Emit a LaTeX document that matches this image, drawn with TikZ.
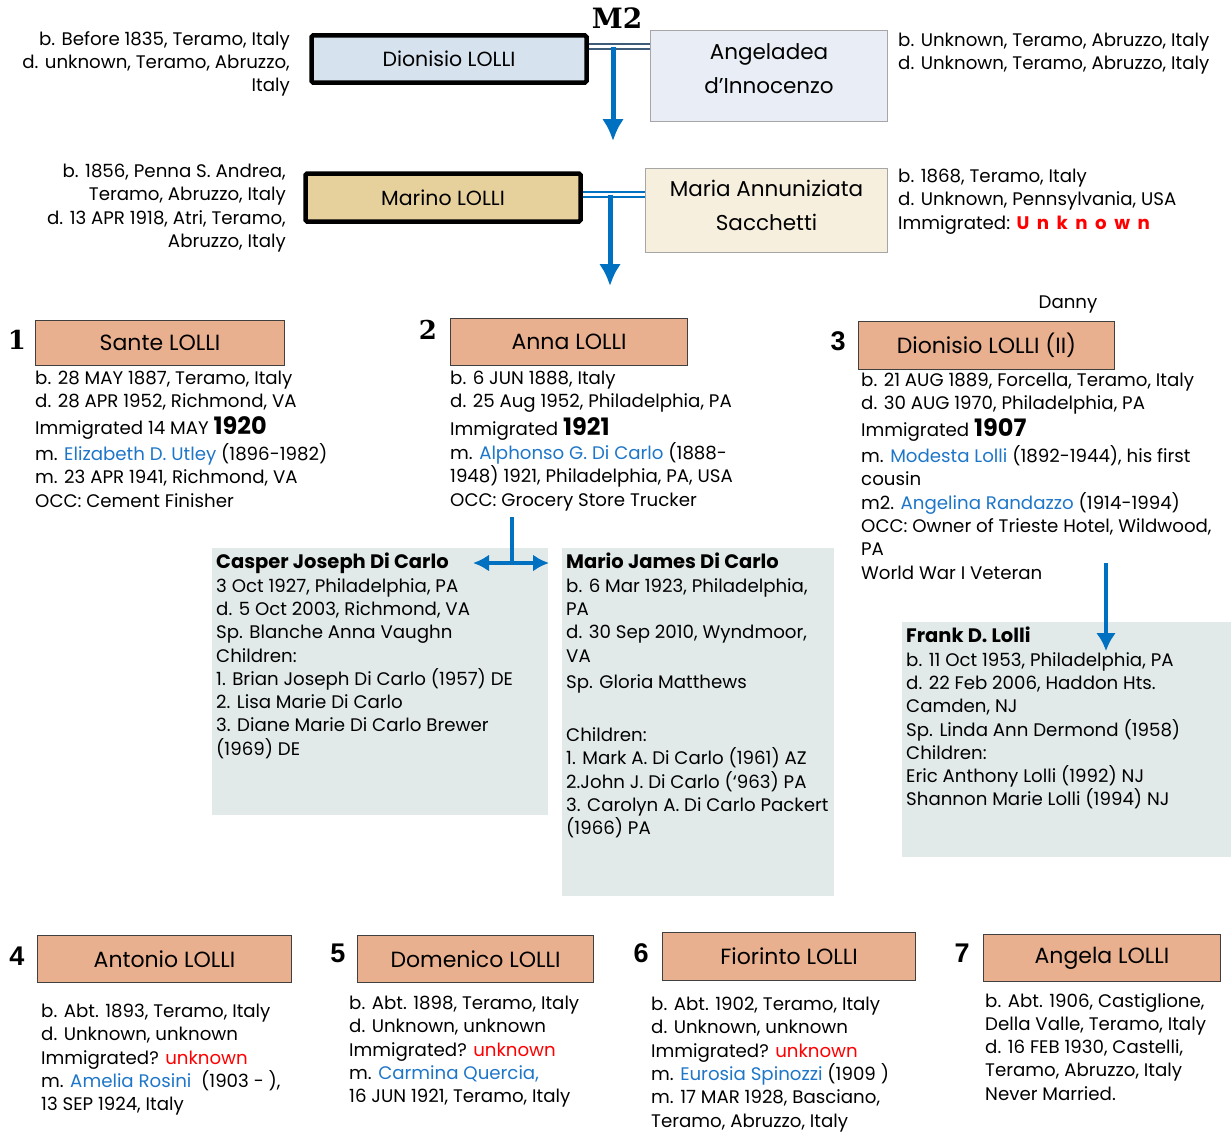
\documentclass[tikz,border=0pt]{standalone}
\usepackage{fontspec}
\setmainfont{Poppins}
\newfontfamily\numserif{DejaVu Serif}
\newfontfamily\numsans{Liberation Sans}
\usetikzlibrary{arrows.meta}
\definecolor{famblue}{RGB}{0,112,192}
\definecolor{linkblue}{RGB}{30,118,200}
\definecolor{slate}{RGB}{62,92,122}
\definecolor{salmon}{RGB}{233,176,143}
\definecolor{marinotan}{RGB}{230,208,156}
\definecolor{paleblue}{RGB}{214,227,238}
\definecolor{lavender}{RGB}{233,238,246}
\definecolor{cream}{RGB}{246,239,222}
\definecolor{panel}{RGB}{226,234,233}
\newcommand{\infosize}{\fontsize{18.2}{23.3}\selectfont}
\newcommand{\yr}[1]{{\fontsize{24}{23}\selectfont\bfseries #1}}
\newcommand{\lnk}[1]{\textcolor{linkblue}{#1}}
\newcommand{\unk}[1]{\textcolor{red}{#1}}
\newcommand{\head}[1]{{\fontsize{19.5}{23.3}\selectfont\bfseries #1}}
\newcommand{\gap}{\hspace{7.5pt}}

\begin{document}
\begin{tikzpicture}[x=1pt, y=-1pt,
	info/.style={anchor=north west, align=left, inner sep=0pt, font=\infosize},
	inforight/.style={anchor=north east, align=right, inner sep=0pt, font=\infosize},
	parent/.style={draw=black, line width=4.5pt, rounded corners=1.5pt, font=\fontsize{20.5}{24}\selectfont},
	spouse/.style={draw=black!35, line width=1pt, align=center, font=\fontsize{21.5}{34}\selectfont},
	child/.style={draw=black!75, line width=1.2pt, fill=salmon, font=\fontsize{22}{26}\selectfont},
	numA/.style={font=\numserif\bfseries\fontsize{26}{26}\selectfont},
	numB/.style={font=\numsans\bfseries\fontsize{27}{27}\selectfont},
	marriage/.style={double=white, double distance=3pt, line width=2pt},
	famarrow/.style={famblue, line width=5pt, -{Latex[length=22pt,width=22pt]}},
	kidarrow/.style={famblue, line width=4pt, {Latex[length=16pt,width=17pt]}-{Latex[length=16pt,width=17pt]}}]

	\useasboundingbox (0,0) rectangle (1231,1132);

	% grandparents
	\node[inforight] (dioninfo) at (290,31) {b. Before 1835, Teramo, Italy\\ d. unknown, Teramo, Abruzzo,\\ Italy};
	\node[parent, fill=paleblue, minimum width=275, minimum height=47] (dionisio) at (449,59) {Dionisio LOLLI};
	\node[font=\numserif\bfseries\fontsize{28}{28}\selectfont] (mtwo) at (617,18) {M2};
	\node[spouse, fill=lavender, minimum width=237, minimum height=91, text depth=14pt] (angeladea) at (769,76) {Angeladea\\ d’Innocenzo};
	\node[info] (angelinfo) at (898,33) {b. Unknown, Teramo, Abruzzo, Italy\\ d. Unknown, Teramo, Abruzzo, Italy};

	\coordinate (m1) at (613,47);
	\coordinate (m1end) at (613,141);
	\draw[marriage, draw=slate] (dionisio.east |- m1) -- (angeladea.west |- m1);
	\draw[famarrow] (m1) -- (m1end);

	% parents
	\node[inforight] (marinfo) at (286,164) {b. 1856, Penna S. Andrea,\\ Teramo, Abruzzo, Italy\\ d. 13 APR 1918, Atri, Teramo,\\ Abruzzo, Italy};
	\node[parent, fill=marinotan, minimum width=275, minimum height=48] (marino) at (443,197.5) {Marino LOLLI};
	\node[spouse, fill=cream, minimum width=242, minimum height=84, text depth=10pt] (maria) at (766.5,210.5) {Maria Annuniziata\\ Sacchetti};
	\node[info] (mariainfo) at (898,169) {b. 1868, Teramo, Italy\\ d. Unknown, Pennsylvania, USA\\ Immigrated: \unk{\bfseries U\gap n\gap k\gap n\gap o\gap w\gap n}};

	\coordinate (m2) at (610,194.5);
	\coordinate (m2end) at (610,286);
	\draw[marriage, draw=famblue] (marino.east |- m2) -- (maria.west |- m2);
	\draw[famarrow] (m2) -- (m2end);

	% children of marino, first row
	\node[numA] (n1) at (17,340) {1};
	\node[child, minimum width=249, minimum height=45] (sante) at (160,343) {Sante LOLLI};
	\node[info] (santeinfo) at (35,371) {b. 28 MAY 1887, Teramo, Italy\\ d. 28 APR 1952, Richmond, VA\\[3pt] Immigrated 14 MAY \yr{1920}\\[3pt] m. \lnk{Elizabeth D. Utley} (1896-1982)\\ m. 23 APR 1941, Richmond, VA\\ OCC: Cement Finisher};

	\node[numA] (n2) at (428,330) {2};
	\node[child, minimum width=237, minimum height=47] (anna) at (569,342) {Anna LOLLI};
	\node[info] (annainfo) at (450,371) {b. 6 JUN 1888, Italy\\ d. 25 Aug 1952, Philadelphia, PA\\[4pt] Immigrated \yr{1921}\\[1pt] m. \lnk{Alphonso G. Di Carlo} (1888-\\ 1948) 1921, Philadelphia, PA, USA\\ OCC: Grocery Store Trucker};

	\node[font=\infosize] (danny) at (1068,305) {Danny};
	\node[numB] (n3) at (838,341) {3};
	\node[child, minimum width=256, minimum height=48] (dionii) at (986.5,345.5) {Dionisio LOLLI (II)};
	\node[info] (dioniiinfo) at (861,373) {b. 21 AUG 1889, Forcella, Teramo, Italy\\ d. 30 AUG 1970, Philadelphia, PA\\[3pt] Immigrated \yr{1907}\\[3pt] m. \lnk{Modesta Lolli} (1892-1944), his first\\ cousin\\ m2. \lnk{Angelina Randazzo} (1914-1994)\\ OCC: Owner of Trieste Hotel, Wildwood,\\ PA\\ World War I Veteran};

	% grandchildren panels
	\fill[panel] (212,548) rectangle (548,815);
	\fill[panel] (562,548) rectangle (834,896);
	\fill[panel] (902,622) rectangle (1231,857);

	\node[info] (casper) at (216,553) {\head{Casper Joseph Di Carlo}\\ 3 Oct 1927, Philadelphia, PA\\ d. 5 Oct 2003, Richmond, VA\\ Sp. Blanche Anna Vaughn\\ Children:\\ 1. Brian Joseph Di Carlo (1957) DE\\ 2. Lisa Marie Di Carlo\\ 3. Diane Marie Di Carlo Brewer\\ (1969) DE};
	\node[info] (mario) at (566,553) {\head{Mario James Di Carlo}\\ b. 6 Mar 1923, Philadelphia,\\ PA\\ d. 30 Sep 2010, Wyndmoor,\\ VA\\[3pt] Sp. Gloria Matthews\\[30pt] Children:\\ 1. Mark A. Di Carlo (1961) AZ\\ 2.John J. Di Carlo (`963) PA\\ 3. Carolyn A. Di Carlo Packert\\ (1966) PA};
	\node[info] (frank) at (906,627) {\head{Frank D. Lolli}\\ b. 11 Oct 1953, Philadelphia, PA\\ d. 22 Feb 2006, Haddon Hts.\\ Camden, NJ\\ Sp. Linda Ann Dermond (1958)\\ Children:\\ Eric Anthony Lolli (1992) NJ\\ Shannon Marie Lolli (1994) NJ};

	\coordinate (kids2) at (512,563);
	\coordinate (kids2l) at (473,563);
	\coordinate (kids2r) at (549,563);
	\draw[famblue, line width=4pt] (annainfo.south -| kids2) ++(0,6) -- (kids2);
	\draw[kidarrow] (kids2l) -- (kids2r);

	\coordinate (kids3) at (1106,563);
	\coordinate (kids3end) at (1106,651);
	\draw[famarrow, line width=4pt, -{Latex[length=18pt,width=20pt]}] (kids3) -- (kids3end);

	% children of marino, second row
	\node[numB] (n4) at (17,956) {4};
	\node[child, minimum width=254, minimum height=47] (antonio) at (164.5,959) {Antonio LOLLI};
	\node[info] (antinfo) at (41,1004) {b. Abt. 1893, Teramo, Italy\\ d. Unknown, unknown\\ Immigrated? \unk{unknown}\\ m. \lnk{Amelia Rosini}\ \ (1903 - ),\\ 13 SEP 1924, Italy};

	\node[numB] (n5) at (338,953) {5};
	\node[child, minimum width=236, minimum height=47] (domenico) at (475.5,959) {Domenico LOLLI};
	\node[info] (dominfo) at (349,996) {b. Abt. 1898, Teramo, Italy\\ d. Unknown, unknown\\ Immigrated? \unk{unknown}\\ m. \lnk{Carmina Quercia,}\\ 16 JUN 1921, Teramo, Italy};

	\node[numB] (n6) at (641,953) {6};
	\node[child, minimum width=253, minimum height=48] (fiorinto) at (789,956.5) {Fiorinto LOLLI};
	\node[info] (fiorinfo) at (651,997) {b. Abt. 1902, Teramo, Italy\\ d. Unknown, unknown\\ Immigrated? \unk{unknown}\\ m. \lnk{Eurosia Spinozzi} (1909 )\\ m. 17 MAR 1928, Basciano,\\ Teramo, Abruzzo, Italy};

	\node[numB] (n7) at (962,953) {7};
	\node[child, minimum width=237, minimum height=47] (angela) at (1102,958) {Angela LOLLI};
	\node[info] (angelainfo) at (985,993) {b. Abt. 1906, Castiglione,\\ Della Valle, Teramo, Italy\\ d. 16 FEB 1930, Castelli,\\ Teramo, Abruzzo, Italy\\ Never Married.};

\end{tikzpicture}
\end{document}
